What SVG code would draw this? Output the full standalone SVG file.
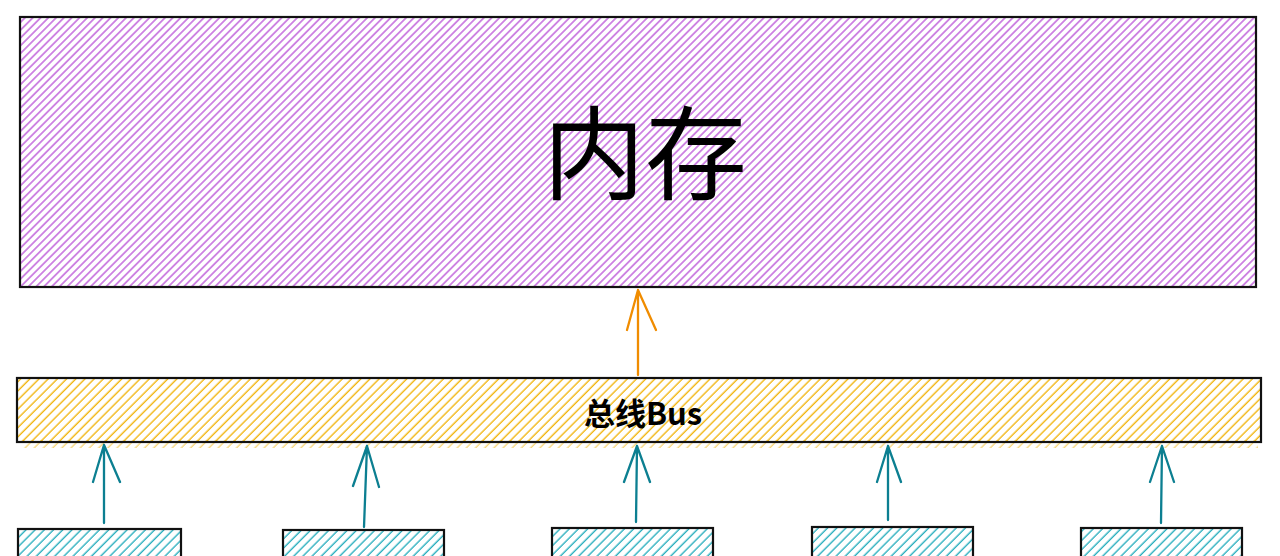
<svg xmlns="http://www.w3.org/2000/svg" width="1280" height="556" viewBox="0 0 1280 556">
<defs>
<pattern id="hPurple" patternUnits="userSpaceOnUse" width="5.5" height="5.5" patternTransform="rotate(45)">
<line x1="2.75" y1="0" x2="2.75" y2="5.5" stroke="#b84fd6" stroke-width="1.3"/>
</pattern>
<pattern id="hYellow" patternUnits="userSpaceOnUse" width="6.5" height="6.5" patternTransform="rotate(45)">
<line x1="3" y1="0" x2="3" y2="6.5" stroke="#f0b000" stroke-width="1.3"/>
</pattern>
<pattern id="hTeal" patternUnits="userSpaceOnUse" width="6.5" height="6.5" patternTransform="rotate(45)">
<line x1="3" y1="0" x2="3" y2="6.5" stroke="#1ba9b9" stroke-width="1.3"/>
</pattern>
</defs>
<style>
.box{stroke:#111111;stroke-width:2.2;}
.lbl{font-family:"Noto Sans CJK SC","Noto Sans",sans-serif;fill:#000000;text-anchor:middle;dominant-baseline:central;}
.teal{stroke:#0c7f91;stroke-width:2.3;fill:none;stroke-linecap:round;stroke-linejoin:round;}
.orange{stroke:#f08c00;stroke-width:2.3;fill:none;stroke-linecap:round;stroke-linejoin:round;}
</style>
<rect width="1280" height="556" fill="#ffffff"/>
<g id="memory">
<rect class="box" x="20" y="17" width="1236" height="270" fill="url(#hPurple)"/>
<text class="lbl" x="645" y="147" font-size="102">内存</text>
</g>
<g id="bus">
<rect x="22" y="440" width="1236" height="8" fill="url(#hYellow)" opacity="0.55"/>
<rect class="box" x="17" y="378" width="1244" height="64" fill="url(#hYellow)"/>
<text class="lbl" x="643" y="411" font-size="31" font-weight="bold">总线Bus</text>
</g>
<g id="unit1"><rect class="box" x="18" y="529" width="163" height="60" fill="url(#hTeal)"/></g>
<g id="unit2"><rect class="box" x="283" y="530" width="161" height="60" fill="url(#hTeal)"/></g>
<g id="unit3"><rect class="box" x="552" y="528" width="161" height="60" fill="url(#hTeal)"/></g>
<g id="unit4"><rect class="box" x="812" y="527" width="161" height="60" fill="url(#hTeal)"/></g>
<g id="unit5"><rect class="box" x="1081" y="528" width="161" height="60" fill="url(#hTeal)"/></g>
<g id="connectors">
<path class="orange" d="M638 375 L638 290 M627 330 L638 290 L656 330"/>
<path class="teal" d="M104 523 L104 445 M93 482 L104 445 L120 482"/>
<path class="teal" d="M364 527 L367 446 M353 486 L367 446 L379 487"/>
<path class="teal" d="M636 522 L637 446 M624 482 L637 446 L650 482"/>
<path class="teal" d="M888 520 L888 446 M877 482 L888 446 L901 482"/>
<path class="teal" d="M1161 523 L1162 446 M1150 482 L1162 446 L1174 482"/>
</g>
</svg>
